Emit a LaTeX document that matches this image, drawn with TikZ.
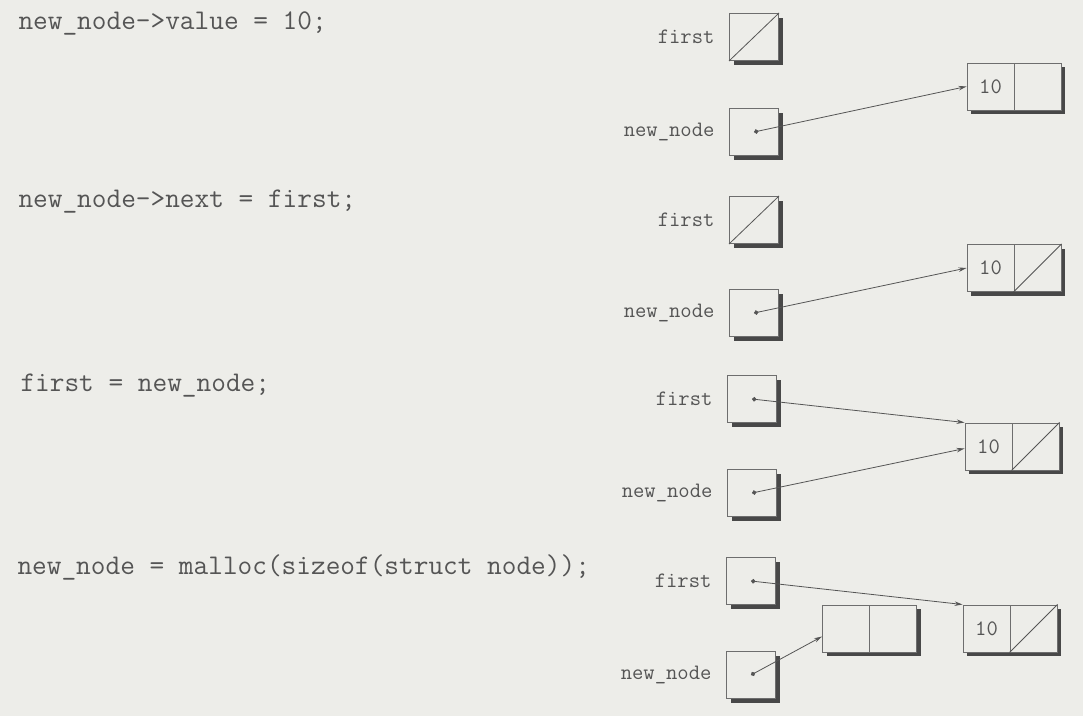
\documentclass[tikz,border=0pt]{standalone}
\usepackage{fontspec}
\usetikzlibrary{positioning,arrows.meta,shadows}

\definecolor{paper}{RGB}{237,237,233}
\definecolor{ink}{RGB}{85,85,85}
\definecolor{shade}{RGB}{72,72,72}

\tikzset{
  ptrbox/.style={draw=ink!85, line width=1pt, fill=paper, minimum width=49pt,
    minimum height=47pt, inner sep=0pt,
    drop shadow={shadow xshift=4pt, shadow yshift=-4pt, fill=shade, opacity=1}},
  cell/.style={ptrbox, minimum width=47pt, font=\ttfamily\fontsize{22}{22}\selectfont, text=ink},
  varname/.style={font=\ttfamily\fontsize{22}{22}\selectfont, text=ink},
  code/.style={font=\ttfamily\fontsize{28.5}{28.5}\selectfont, text=ink, anchor=base west},
  ptr/.style={draw=ink, line width=0.8pt, {Circle[length=4.5pt]}-{Stealth[length=8pt,width=4.5pt]}},
  null/.style={draw=ink, line width=0.8pt}
}

\begin{document}
\begin{tikzpicture}[x=1pt, y=-1pt]
  % page
  \fill[paper] (0,0) rectangle (1083,716);
  \useasboundingbox (0,0) rectangle (1083,716);

  % statements
  \node[code] (c1) at (15,29) {new\_node->value = 10;};
  \node[code] (c2) at (15,207) {new\_node->next = first;};
  \node[code] (c3) at (17,391) {first = new\_node;};
  \node[code] (c4) at (14,574) {new\_node = malloc(sizeof(struct node));};

  % step: value set
  \node[ptrbox] (f1) at (754,37) {};
  \node[ptrbox] (n1) at (754,132) {};
  \node[varname, left=11pt of f1] (lf1) {first};
  \node[varname, left=11pt of n1] (ln1) {new\_node};
  \node[cell] (v1) at (990.5,86.5) {10};
  \node[cell, right=-1pt of v1] (x1) {};
  \draw[null] (f1.south west) -- (f1.north east);
  \draw[ptr] (n1.center) -- (v1.west);

  % step: next set
  \node[ptrbox] (f2) at (754,220) {};
  \node[ptrbox] (n2) at (754,313) {};
  \node[varname, left=11pt of f2] (lf2) {first};
  \node[varname, left=11pt of n2] (ln2) {new\_node};
  \node[cell] (v2) at (990.5,268) {10};
  \node[cell, right=-1pt of v2] (x2) {};
  \draw[null] (f2.south west) -- (f2.north east);
  \draw[null] (x2.south west) -- (x2.north east);
  \draw[ptr] (n2.center) -- (v2.west);

  % step: first moved
  \node[ptrbox] (f3) at (752,399) {};
  \node[ptrbox] (n3) at (752,493) {};
  \node[varname, left=11pt of f3] (lf3) {first};
  \node[varname, left=11pt of n3] (ln3) {new\_node};
  \node[cell] (v3) at (988.5,446.5) {10};
  \node[cell, right=-1pt of v3] (x3) {};
  \draw[null] (x3.south west) -- (x3.north east);
  \draw[ptr] (f3.center) -- (v3.north west);
  \draw[ptr] (n3.center) -- ([yshift=-2pt]v3.west);

  % step: fresh node
  \node[ptrbox] (f4) at (751,581) {};
  \node[ptrbox] (n4) at (751,675) {};
  \node[varname, left=11pt of f4] (lf4) {first};
  \node[varname, left=11pt of n4] (ln4) {new\_node};
  \node[cell] (w4) at (846,628.5) {};
  \node[cell, right=-1pt of w4] (y4) {};
  \node[cell] (v4) at (986.5,628.5) {10};
  \node[cell, right=-1pt of v4] (x4) {};
  \draw[null] (x4.south west) -- (x4.north east);
  \draw[ptr] (f4.center) -- (v4.north west);
  \draw[ptr] (n4.center) -- ([yshift=-8pt]w4.west);

\end{tikzpicture}
\end{document}
